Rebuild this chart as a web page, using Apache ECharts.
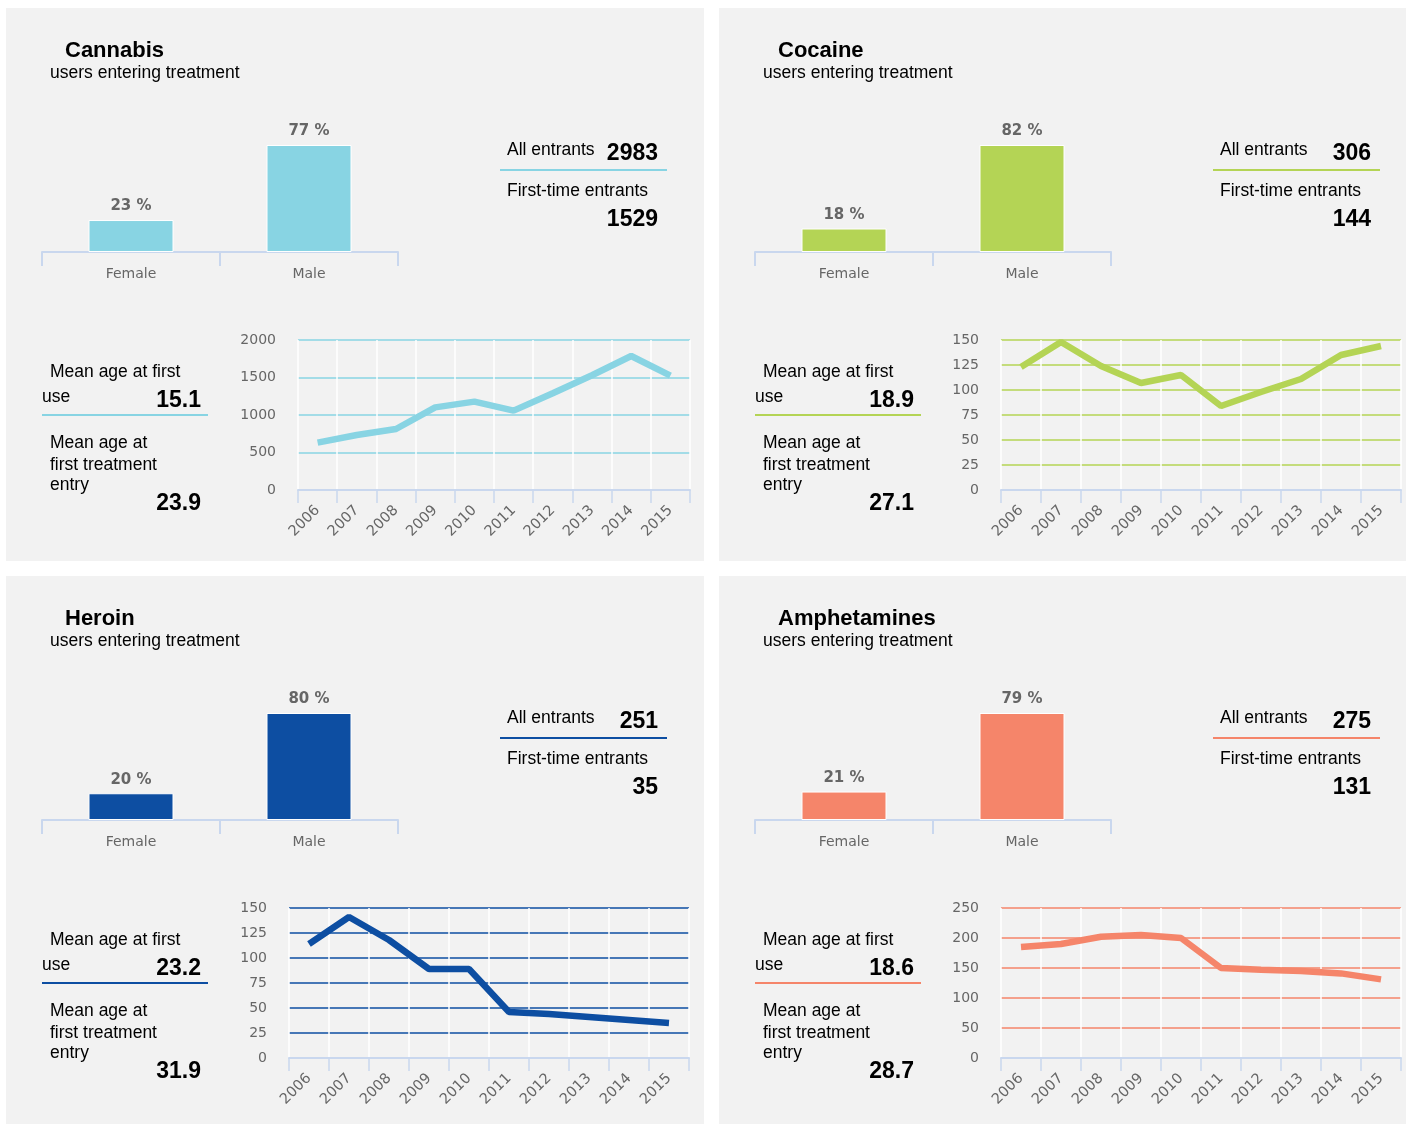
<!DOCTYPE html>
<html>
<head>
<meta charset="utf-8">
<script src="https://cdn.jsdelivr.net/npm/echarts@6/dist/echarts.min.js"></script>
<style>
html,body{margin:0;padding:0;background:#fff;}
#c{width:1406px;height:1124px;}
</style>
</head>
<body>
<div id="c"></div>
<script>
// ---- data ----
const drugs = ['Cannabis', 'Cocaine', 'Heroin', 'Amphetamines'];
const subtitle = 'users entering treatment';
const sexCategories = ['Female', 'Male'];
const femalePct = [23, 18, 20, 21];
const malePct = [77, 82, 80, 79];
const allEntrants = [2983, 306, 251, 275];
const firstTimeEntrants = [1529, 144, 35, 131];
const meanAgeFirstUse = [15.1, 18.9, 23.2, 18.6];
const meanAgeFirstTreatment = [23.9, 27.1, 31.9, 28.7];
const years = ['2006', '2007', '2008', '2009', '2010', '2011', '2012', '2013', '2014', '2015'];
const cannabisTrend = [632, 733, 813, 1102, 1178, 1058, 1290, 1530, 1787, 1525];
const cocaineTrend = [123, 148, 124, 107, 115, 84, 98, 111, 135, 144];
const heroinTrend = [114, 141, 118, 89, 89, 46, 44, 41, 38, 35];
const amphetaminesTrend = [185, 190, 202, 205, 200, 150, 147, 145, 141, 131];
const trendMax = [2000, 150, 150, 250];
const trendInterval = [500, 25, 25, 50];

// ---- styles / layout ----
const colors = ['#88d4e3', '#b4d455', '#0d4ea2', '#f5856a'];
const trends = [cannabisTrend, cocaineTrend, heroinTrend, amphetaminesTrend];
const panels = [
  {x: 6, y: 8, w: 698, h: 553, lineLeft: 292, lineW: 392},
  {x: 719, y: 8, w: 687, h: 553, lineLeft: 282, lineW: 400},
  {x: 6, y: 576, w: 698, h: 548, lineLeft: 283, lineW: 400},
  {x: 719, y: 576, w: 687, h: 548, lineLeft: 282, lineW: 400}
];
const SANS = '"Liberation Sans", Arial, Helvetica, sans-serif';
const AXF = '"DejaVu Sans", Verdana, sans-serif';
const axisBlue = '#c9d7ee';

const grids = [], xAxes = [], yAxes = [], series = [], graphics = [];

function txt(x, y, text, size, weight, align) {
  graphics.push({
    type: 'text', x: x, y: y + 2, z: 10,
    style: {
      text: text, fontSize: size, fontWeight: weight || 'normal',
      fontFamily: SANS, fill: '#000',
      textAlign: align || 'left', textVerticalAlign: 'middle'
    }
  });
}
function hline(x1, x2, y, color) {
  graphics.push({
    type: 'line', z: 10,
    shape: {x1: x1, y1: y, x2: x2, y2: y},
    style: {stroke: color, lineWidth: 2}
  });
}

panels.forEach((p, i) => {
  const col = colors[i];
  graphics.push({
    type: 'rect', z: -100,
    shape: {x: p.x, y: p.y, width: p.w, height: p.h},
    style: {fill: '#f2f2f2'}
  });
  // titles
  txt(p.x + 59, p.y + 41, drugs[i], 22, 'bold');
  txt(p.x + 44, p.y + 63, subtitle, 17.5);
  // right stats
  txt(p.x + 501, p.y + 140, 'All entrants', 17.5);
  txt(p.x + 652, p.y + 144, String(allEntrants[i]), 23, 'bold', 'right');
  hline(p.x + 494, p.x + 661, p.y + 162, col);
  txt(p.x + 501, p.y + 181, 'First-time entrants', 17.5);
  txt(p.x + 652, p.y + 210, String(firstTimeEntrants[i]), 23, 'bold', 'right');
  // left stats
  txt(p.x + 44, p.y + 362, 'Mean age at first', 17.5);
  txt(p.x + 36, p.y + 387, 'use', 17.5);
  txt(p.x + 195, p.y + 391, meanAgeFirstUse[i].toFixed(1), 23, 'bold', 'right');
  hline(p.x + 36, p.x + 202, p.y + 407, col);
  txt(p.x + 44, p.y + 433, 'Mean age at', 17.5);
  txt(p.x + 44, p.y + 455, 'first treatment', 17.5);
  txt(p.x + 44, p.y + 475, 'entry', 17.5);
  txt(p.x + 195, p.y + 494, meanAgeFirstTreatment[i].toFixed(1), 23, 'bold', 'right');

  // bar chart grid
  const gb = grids.length;
  grids.push({left: p.x + 36, top: p.y + 137, width: 356, height: 107, containLabel: false});
  xAxes.push({
    type: 'category', gridIndex: gb, data: sexCategories,
    axisLine: {show: true, lineStyle: {color: axisBlue, width: 2}},
    axisTick: {show: true, alignWithLabel: false, length: 14, lineStyle: {color: axisBlue, width: 2}},
    axisLabel: {color: '#666', fontSize: 14, fontFamily: AXF, margin: 15},
    splitLine: {show: false}
  });
  yAxes.push({type: 'value', gridIndex: gb, min: 0, max: 'dataMax', show: false});
  series.push({
    type: 'bar', xAxisIndex: gb, yAxisIndex: gb,
    data: [femalePct[i], malePct[i]],
    barWidth: 85,
    itemStyle: {color: col, borderColor: '#fff', borderWidth: 1},
    label: {
      show: true, position: 'top', distance: 6,
      formatter: '{c} %', color: '#666', fontSize: 15, fontWeight: 'bold', fontFamily: AXF
    },
    silent: true
  });

  // line chart grid
  const gl = grids.length;
  grids.push({left: p.x + p.lineLeft, top: p.y + 332, width: p.lineW, height: 150, containLabel: false});
  xAxes.push({
    type: 'category', gridIndex: gl, data: years, boundaryGap: true,
    axisLine: {show: true, lineStyle: {color: axisBlue, width: 2}},
    axisTick: {show: true, alignWithLabel: false, length: 13, interval: 0, lineStyle: {color: axisBlue, width: 1.5}},
    axisLabel: {color: '#666', fontSize: 14.5, fontFamily: AXF, rotate: 45, margin: 18, interval: 0},
    splitLine: {show: true, interval: 0, lineStyle: {color: '#ffffff', width: 1.5}}
  });
  yAxes.push({
    type: 'value', gridIndex: gl, min: 0, max: trendMax[i], interval: trendInterval[i],
    axisLine: {show: false}, axisTick: {show: false},
    axisLabel: {color: '#666', fontSize: 14, fontFamily: AXF, margin: 22, formatter: v => String(v)},
    splitLine: {lineStyle: {color: col, width: 1.5}}
  });
  series.push({
    type: 'line', xAxisIndex: gl, yAxisIndex: gl,
    data: trends[i], showSymbol: false, symbol: 'none',
    lineStyle: {color: col, width: 6.5},
    silent: true, z: 5
  });
});

const chart = echarts.init(document.getElementById('c'), null, {renderer: 'canvas'});
chart.setOption({
  animation: false,
  backgroundColor: '#ffffff',
  grid: grids, xAxis: xAxes, yAxis: yAxes, series: series,
  graphic: {elements: graphics}
});
</script>
</body>
</html>
